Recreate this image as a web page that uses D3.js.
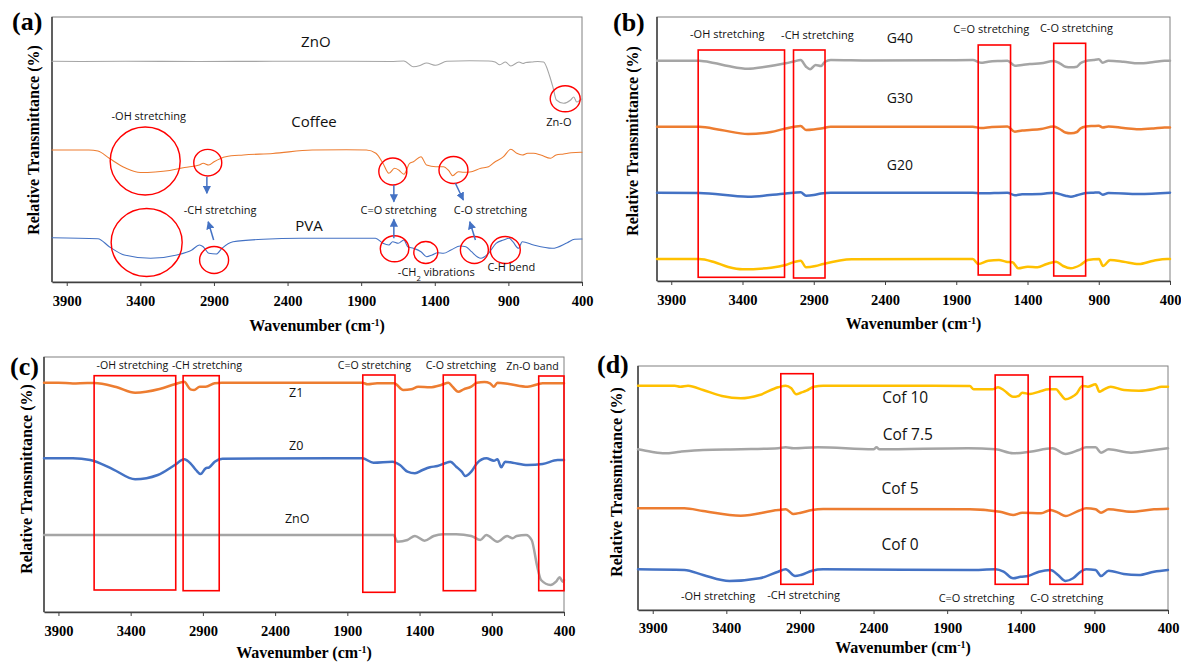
<!DOCTYPE html>
<html><head><meta charset="utf-8">
<script src="https://cdn.jsdelivr.net/npm/d3@7"></script>
<style>
html,body{margin:0;padding:0;background:#fff;}
svg{display:block;}
</style></head><body>
<svg id="chart" width="1181" height="664"></svg>
<script>
// ---------------- shared axis values ----------------
const X_DOMAIN = [4000, 400];
const X_TICKS = [3900, 3400, 2900, 2400, 1900, 1400, 900, 400];

// ---------------- panel (a) spectra: [wavenumber, relative transmittance (a.u.)] ----------------
const aZnO = [[4000,220.7],[3800,220.5],[3500,220.7],[3000,220.5],[2500,220.7],[2000,220.7],[1700,220.5],[1610,221],[1545,215.3],[1500,216.5],[1456,219],[1393,216.7],[1318,220.7],[1162,221.3],[1035,221],[990,220],[959,217.3],[920,220],[884,216],[828,220],[800,218.5],[782,219.5],[740,220],[700,220.5],[661,220],[620,206],[596,194],[574,182],[525,178.7],[477,182],[456,185],[436,180],[407,182.5],[400,183]];
const aCoffee = [[4000,132],[3750,132],[3688,131],[3611,123.7],[3500,114],[3400,109.5],[3300,110],[3200,111.5],[3100,114.5],[3000,117],[2973,118.7],[2935,117],[2899,120.3],[2820,125.3],[2700,127],[2500,128.5],[2233,132],[2000,132.3],[1864,132],[1800,128.7],[1752,118.7],[1712,108.7],[1673,113.7],[1645,112],[1610,107.7],[1571,118.7],[1545,120.3],[1494,125.3],[1456,117],[1393,115.3],[1341,115.3],[1305,111.3],[1278,106.3],[1240,110.3],[1203,109.7],[1162,110],[1087,113.7],[1035,115.3],[999,119.3],[933,125.3],[884,132.7],[843,128.7],[806,127],[769,128.7],[729,128.7],[680,127],[614,123.7],[576,127],[525,128],[474,129.3],[410,129.7],[400,129.7]];
const aPVA = [[4000,44.3],[3688,43.3],[3611,35.3],[3509,27],[3330,23.7],[3152,27],[3050,32],[2999,37],[2973,35.3],[2935,28.7],[2884,28],[2846,33.7],[2770,40.3],[2566,42.7],[2312,43.7],[1803,43.7],[1752,38.7],[1712,37],[1686,40.3],[1648,38.7],[1610,42],[1584,35.3],[1545,33.7],[1494,30.3],[1456,25.3],[1418,27],[1380,29.3],[1341,28.7],[1290,32],[1227,36],[1189,35.3],[1150,30.3],[1112,25.3],[1087,23.7],[1035,28.7],[984,38.7],[933,42],[895,43.7],[870,40.3],[831,33.7],[806,40.3],[729,37],[602,33.7],[500,39.3],[450,42.7],[405,43],[400,43]];

// ---------------- panel (b) spectra ----------------
const bG40 = [[4000,220.3],[3704,220.3],[3600,218],[3500,215],[3361,212.3],[3250,214],[3097,217.7],[3040,219.5],[2992,221],[2954,214.3],[2926,211.7],[2887,216],[2849,215],[2821,219.3],[2781,221],[2500,220.5],[2000,220.7],[1784,221],[1727,218.3],[1675,219.3],[1596,220],[1541,220.3],[1489,215.3],[1438,216],[1384,217],[1305,217.7],[1216,220],[1174,217.7],[1134,214.3],[1095,213.7],[1053,214.3],[1029,217.7],[990,220],[937,221],[900,221.7],[872,218.3],[832,220.3],[726,219.3],[620,217.7],[515,219],[438,220.3],[400,220.3]];
const bG30 = [[4000,154.3],[3704,154.3],[3550,151],[3361,147],[3200,149],[3097,152.5],[2992,155],[2954,151],[2900,151.5],[2849,152.5],[2781,154.3],[2000,154.3],[1784,154.3],[1727,153],[1650,154],[1541,154.5],[1489,149.3],[1438,150.5],[1384,151],[1305,152],[1216,154.5],[1174,152],[1134,148.5],[1095,147.7],[1053,149],[1029,152.5],[990,154.5],[937,155],[900,155.3],[872,153.5],[832,154.5],[726,153],[620,151.7],[515,152.5],[438,153.5],[400,153.5]];
const bG20 = [[4000,88.3],[3704,88],[3361,84.3],[3097,87.5],[2992,88.7],[2954,85.3],[2900,86],[2849,87.5],[2781,88.3],[1784,88.3],[1727,87.7],[1541,88.3],[1489,85.7],[1438,86.7],[1305,87],[1216,88.3],[1134,85.3],[1095,84.3],[1053,85.7],[990,88],[937,88.3],[900,88.5],[872,86.3],[832,88],[620,87],[400,88.3]];
const bG10 = [[4000,22],[3704,22],[3600,19],[3500,14],[3400,11.7],[3200,13.3],[3097,16],[3030,19.3],[2992,20.3],[2954,13.7],[2887,15],[2834,17],[2634,21.7],[2000,22],[1784,22],[1745,17],[1675,20.3],[1600,21],[1550,19.3],[1505,18.7],[1465,12.7],[1398,14.3],[1330,13.7],[1265,17],[1200,19.3],[1150,15],[1097,12.7],[1029,16],[977,21],[898,22],[870,15],[819,21],[726,19.3],[620,17],[515,20.3],[420,22],[400,22]];

// ---------------- panel (c) spectra ----------------
const cZ1 = [[4000,229.3],[3900,229.3],[3800,228.5],[3700,229],[3653,229],[3500,225],[3369,219.3],[3200,223],[3095,227.7],[3030,230.3],[2986,222.7],[2961,222],[2922,225.3],[2881,225.3],[2818,228.7],[2768,229.3],[2000,229.3],[1797,229.3],[1759,227.7],[1694,228.7],[1576,228.7],[1513,222],[1458,222.7],[1409,225.3],[1328,224.7],[1250,227],[1200,229.3],[1172,225.3],[1132,220.3],[1095,222.7],[1042,225.3],[1003,229.3],[951,230],[912,228.7],[885,225.3],[861,229.3],[781,228],[652,225.3],[548,228.7],[400,228.7]];
const cZ0 = [[4000,153.7],[3800,153.7],[3680,152],[3522,142.7],[3369,132.7],[3212,137],[3095,147],[3030,152.7],[2986,148.7],[2948,142],[2916,138],[2881,143.7],[2856,144.7],[2818,150.3],[2764,153.3],[2000,153.7],[1797,153.7],[1719,149.3],[1588,150.3],[1536,147],[1484,140.3],[1432,138.7],[1379,142],[1328,144.7],[1276,146],[1223,148.7],[1187,150.3],[1146,145.3],[1108,140.3],[1083,136],[1042,140.3],[1003,148.7],[938,153.7],[885,151.3],[861,152.7],[834,144.7],[808,150.3],[756,149.3],[652,147],[548,148],[444,152],[400,152]];
const cZnO = [[4000,77],[3500,77],[3000,77],[2500,77],[2000,77],[1580,77],[1554,70.3],[1484,72],[1432,76],[1366,71.3],[1302,76],[1237,77.7],[1146,77.7],[1042,76],[979,72],[938,77],[861,70.3],[794,76],[756,73.7],[728,76],[663,77],[624,72],[585,45.3],[559,32],[493,27],[455,30.3],[430,34.7],[409,30.3],[400,32]];

// ---------------- panel (d) spectra ----------------
const dCof10 = [[4000,224.3],[3750,224.3],[3713,223.3],[3660,224.3],[3558,220],[3430,214],[3302,211.7],[3175,215],[3048,222.7],[2997,224.3],[2959,221.7],[2925,215.7],[2894,217.3],[2856,219.3],[2805,223.3],[2742,224.3],[2000,224.3],[1746,224],[1720,220.7],[1669,220.7],[1593,220.7],[1554,222.7],[1517,220],[1452,213.3],[1414,214],[1390,217.3],[1338,216],[1276,218.3],[1210,220.7],[1160,220.7],[1134,216.7],[1096,210.7],[1057,212.7],[1019,216.7],[982,224],[944,223.3],[892,225.7],[866,218.3],[841,220],[789,223.3],[699,220],[597,219.3],[495,221.3],[444,223.3],[400,223.3]];
const dCof75 = [[4000,160.7],[3910,158.3],[3818,156.7],[3713,158.3],[3558,160],[3302,160.7],[3048,161.7],[2997,162.7],[2945,161.7],[2780,162.7],[2400,160.7],[2380,162.7],[2360,160.7],[1758,161.7],[1571,160.7],[1452,156.7],[1338,158.3],[1185,161.7],[1096,156],[1006,160],[956,162.7],[892,162.7],[855,157.3],[803,160.7],[651,157.3],[495,160],[400,161.7]];
const dCof5 = [[4000,101.7],[3685,101.7],[3558,99],[3302,94.3],[3048,100],[2997,100.7],[2945,96],[2894,97.3],[2818,100],[2742,101],[1746,100.7],[1541,98.3],[1452,95],[1390,97.3],[1262,96.7],[1198,100],[1147,97.3],[1096,94],[1006,99.3],[956,101.7],[892,100.7],[855,97.3],[803,100.7],[651,98.3],[495,100.7],[400,101.3]];
const dCof0 = [[4000,40.7],[3685,40],[3558,35],[3379,29],[3175,31.7],[3048,38.3],[2997,40.7],[2933,34],[2894,35],[2818,39.3],[2742,40.7],[1746,40],[1571,40.7],[1517,38.3],[1452,31.7],[1401,33.3],[1350,34],[1276,38.3],[1198,40],[1147,35],[1096,29],[1045,31.7],[994,38.3],[956,40.7],[892,40],[855,34],[803,39.3],[701,36],[599,35],[495,38.3],[400,40]];

// ---------------- annotations (data coordinates) ----------------
const aCircles = [[3367,121,35,34],[3357,39.5,35.5,34],[2942,119.3,14,13.3],[2899,22,14.5,13.5],[1685,110.5,14,13.5],[1273,112,14.5,13.5],[1673,33.2,14.3,13],[1461,29.5,12,11],[1131,32,14,13.5],[921,32,15,13.5],[514,183.2,15,13]];
const aArrows = [[2948,105.3,2948,88.7],[2902,42,2939,60.3],[1678,97,1678,80.3],[1678,43.7,1678,62.7],[1260,98.7,1206,82],[1124,42,1162,60.3]];
const aLabels = [
  ["ZnO",2208,240.3,15],["Coffee",2220,160.3,15],["PVA",2254,56,15],
  ["-OH stretching",3343,166,11],["Zn-O",557,160.3,11],["-CH stretching",2858,72,11],
  ["C=O stretching",1647,72,11],["C-O stretching",1022,72,11],["-CH|2| vibrations",1390,10.3,11],["C-H bend",880,15.3,11]];

const bBoxes = [[3711,3105,231,3.7],[3042,2821,231,3],[1746,1519,236,6],[1216,992,237.7,5]];
const bLabels = [["G40",2295,242.7,14],["G30",2295,182.7,14],["G20",2295,116,14],
  ["-OH stretching",3507,247,11],["-CH stretching",2874,246,11],["C=O stretching",1654,251.7,11],["C-O stretching",1056,252.7,11]];

const cBoxes = [[3653,3088,236.3,22],[3037,2787,236.3,21.3],[1793,1570,237,19.7],[1236,1012,237,21.3],[575,400,236,21.3]];
const cLabels = [["Z1",2254,219.3,12.5],["Z0",2254,166,12.5],["ZnO",2247,93.7,12.5],
  ["-OH stretching",3388,247,10.6],["-CH stretching",2872,247,10.6],["C=O stretching",1713,247,10.6],["C-O stretching",1114,246.3,10.6],["Zn-O band",618,246,10.6]];

const dBoxes = [[3030,2810,236.3,25.7],[1574,1350,235,25.7],[1202,980,233.3,25.7]];
const dLabels = [["Cof 10",2185,212.7,15.5],["Cof 7.5",2167,175,15.5],["Cof 5",2220,121,15.5],["Cof 0",2220,65.7,15.5],
  ["-OH stretching",3456,14,11],["-CH stretching",2875,14.7,11],["C=O stretching",1700,12.3,11],["C-O stretching",1088,12.3,11]];

// ---------------- colours ----------------
const GRAY = "#A5A5A5", ORANGE = "#ED7D31", BLUE = "#4472C4", YELLOW = "#FFC000", RED = "#FF0000";

const SERIF = "'Liberation Serif','Times New Roman',serif";
const SANS = "'Open Sans','Noto Sans',sans-serif";

const svg = d3.select("#chart");
const defs = svg.append("defs");
defs.append("marker").attr("id","arrowBlue").attr("viewBox","0 0 10 10")
  .attr("refX",9).attr("refY",5).attr("markerWidth",5.5).attr("markerHeight",5.5)
  .attr("orient","auto").append("path").attr("d","M0,0L10,5L0,10z").attr("fill",BLUE);

function drawPanel(cfg, series, boxes, circles, arrows, labels) {
  const g = svg.append("g");
  const x = d3.scaleLinear().domain(X_DOMAIN).range([cfg.left, cfg.right]);
  const y = d3.scaleLinear().domain([0, cfg.H]).range([cfg.bottom, cfg.top]);

  g.append("rect").attr("x",cfg.left).attr("y",cfg.top)
    .attr("width",cfg.right-cfg.left).attr("height",cfg.bottom-cfg.top)
    .attr("fill","none").attr("stroke","#808080").attr("stroke-width",1);
  g.append("line").attr("x1",cfg.left).attr("x2",cfg.left).attr("y1",cfg.top).attr("y2",cfg.bottom)
    .attr("stroke","#404040").attr("stroke-width",1.5);

  const ax = g.append("g").attr("transform",`translate(0,${cfg.bottom})`)
    .call(d3.axisBottom(x).tickValues(X_TICKS).tickSize(4).tickSizeOuter(0).tickPadding(cfg.tickPad).tickFormat(d3.format("d")));
  ax.select(".domain").attr("stroke","#404040").attr("stroke-width",1.5);
  ax.selectAll(".tick line").attr("stroke","#404040").attr("stroke-width",1);
  ax.selectAll(".tick text").attr("font-family",SERIF).attr("font-weight","bold")
    .attr("font-size",14.5).attr("fill","#000");

  const line = d3.line().x(d=>x(d[0])).y(d=>y(d[1])).curve(d3.curveMonotoneX);
  series.forEach(s => {
    g.append("path").datum(s.data).attr("d",line).attr("fill","none")
      .attr("stroke",s.color).attr("stroke-width",s.width)
      .attr("stroke-linejoin","round").attr("stroke-linecap","round");
  });

  (boxes||[]).forEach(b => {
    g.append("rect").attr("x",x(b[0])).attr("y",y(b[2]))
      .attr("width",x(b[1])-x(b[0])).attr("height",y(b[3])-y(b[2]))
      .attr("fill","none").attr("stroke",RED).attr("stroke-width",1.6);
  });
  (circles||[]).forEach(c => {
    g.append("ellipse").attr("cx",x(c[0])).attr("cy",y(c[1])).attr("rx",c[2]).attr("ry",c[3])
      .attr("fill","none").attr("stroke",RED).attr("stroke-width",1.4);
  });
  (arrows||[]).forEach(a => {
    g.append("line").attr("x1",x(a[0])).attr("y1",y(a[1])).attr("x2",x(a[2])).attr("y2",y(a[3]))
      .attr("stroke",BLUE).attr("stroke-width",1.5).attr("marker-end","url(#arrowBlue)");
  });
  (labels||[]).forEach(l => {
    const t = g.append("text").attr("x",x(l[1])).attr("y",y(l[2])).attr("dy","0.35em")
      .attr("text-anchor","middle").attr("font-family",SANS).attr("font-size",l[3]).attr("fill","#111");
    const parts = l[0].split("|");
    parts.forEach((p,i) => {
      if (i % 2 === 1) t.append("tspan").attr("baseline-shift","sub").attr("font-size",l[3]*0.7).text(p);
      else t.append("tspan").text(p);
    });
  });

  // panel tag
  g.append("text").attr("x",cfg.tagX).attr("y",cfg.tagY).attr("font-family",SERIF)
    .attr("font-weight","bold").attr("font-size",26).text(cfg.tag);
  // y label
  g.append("text").attr("transform",`translate(${cfg.ylabX},${cfg.ylabY}) rotate(-90)`)
    .attr("text-anchor","middle").attr("dy","0.35em").attr("font-family",SERIF).attr("font-weight","bold")
    .attr("font-size",16).text("Relative Transmittance (%)");
  // x title
  const xt = g.append("text").attr("x",(cfg.left+cfg.right)/2).attr("y",cfg.bottom+cfg.titleOff)
    .attr("text-anchor","middle").attr("font-family",SERIF).attr("font-weight","bold").attr("font-size",16);
  xt.append("tspan").text("Wavenumber (cm");
  xt.append("tspan").attr("baseline-shift","super").attr("font-size",10).text("-1");
  xt.append("tspan").text(")");
}

drawPanel({left:52,right:582,top:17,bottom:282,H:265,tag:"(a)",tagX:12,tagY:30,ylabX:33,ylabY:140,titleOff:49,tickPad:10},
  [{data:aZnO,color:GRAY,width:1.1},{data:aCoffee,color:ORANGE,width:1.1},{data:aPVA,color:BLUE,width:1.1}],
  null, aCircles, aArrows, aLabels);

drawPanel({left:657,right:1170,top:17,bottom:281,H:264,tag:"(b)",tagX:613,tagY:31,ylabX:632,ylabY:141,titleOff:48,tickPad:10},
  [{data:bG40,color:GRAY,width:2.5},{data:bG30,color:ORANGE,width:2.5},{data:bG20,color:BLUE,width:2.5},{data:bG10,color:YELLOW,width:2.5}],
  bBoxes, null, null, bLabels);

drawPanel({left:44,right:564,top:357,bottom:612,H:255,tag:"(c)",tagX:10,tagY:375,ylabX:26,ylabY:479,titleOff:46,tickPad:10},
  [{data:cZ1,color:ORANGE,width:2.5},{data:cZ0,color:BLUE,width:2.5},{data:cZnO,color:GRAY,width:2.5}],
  cBoxes, null, null, cLabels);

drawPanel({left:638,right:1168,top:366,bottom:610,H:244,tag:"(d)",tagX:597,tagY:373,ylabX:616,ylabY:482,titleOff:43,tickPad:9},
  [{data:dCof10,color:YELLOW,width:2.5},{data:dCof75,color:GRAY,width:2.5},{data:dCof5,color:ORANGE,width:2.5},{data:dCof0,color:BLUE,width:2.5}],
  dBoxes, null, null, dLabels);
</script></body></html>
